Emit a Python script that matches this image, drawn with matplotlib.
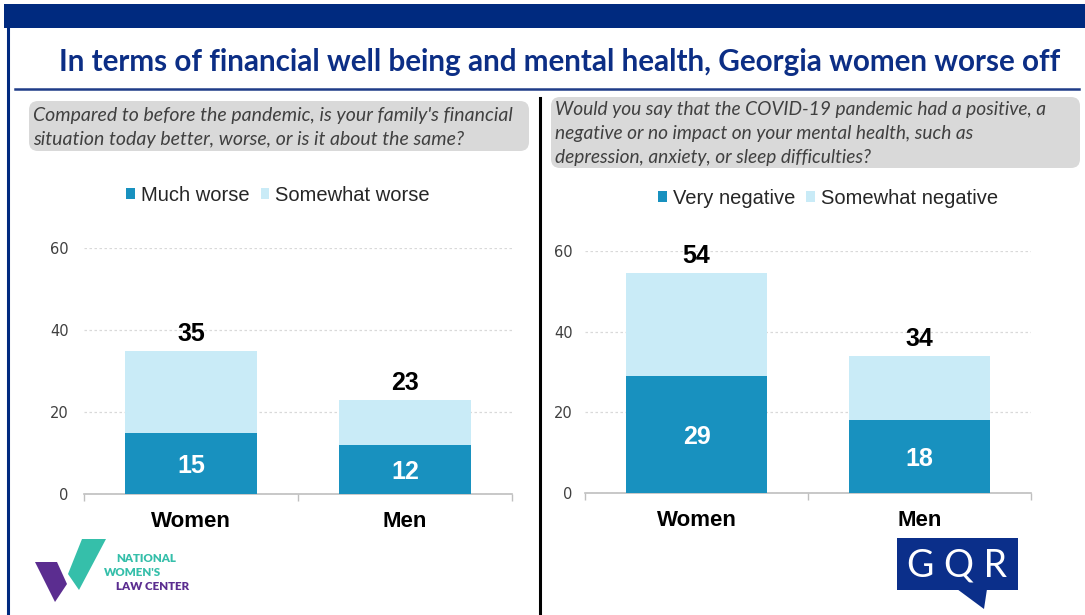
import matplotlib
matplotlib.use("Agg")
import matplotlib.pyplot as plt
from matplotlib.patches import FancyBboxPatch, Rectangle, Polygon
from matplotlib.lines import Line2D
from matplotlib.ticker import FixedLocator

# ---------------- data ----------------
title = "In terms of financial well being and mental health, Georgia women worse off"
categories = ["Women", "Men"]

q_left = ["Compared to before the pandemic, is your family's financial",
          "situation today better, worse, or is it about the same?"]
left_series = ["Much worse", "Somewhat worse"]
left_dark = [15, 12]
left_light = [20, 11]
left_totals = [35, 23]

q_right = ["Would you say that the COVID-19 pandemic had a positive, a",
           "negative or no impact on your mental health, such as",
           "depression, anxiety, or sleep difficulties?"]
right_series = ["Very negative", "Somewhat negative"]
right_dark = [29, 18]
right_light = [25.5, 16]
right_totals = [54, 34]

y_ticks = [0, 20, 40, 60]

# ---------------- style ----------------
W, H = 1085, 615
DARK = "#1891BF"
LIGHT = "#C9EBF7"
NAVY = "#002A7F"
TITLE_C = "#0C2E85"
SANS = "Liberation Sans"

fig = plt.figure(figsize=(W / 100, H / 100), dpi=100)
fig.patch.set_facecolor("white")

bg = fig.add_axes([0, 0, 1, 1], zorder=0)
bg.set_xlim(0, W)
bg.set_ylim(H, 0)
bg.axis("off")

# frame / header
bg.add_patch(Rectangle((4, 4), W - 4, 24, color=NAVY, lw=0))
bg.add_line(Line2D([7.5, 7.5], [28, H], color=NAVY, lw=2.2))
bg.text(560, 62, title, ha="center", va="center", fontsize=21.3,
        fontweight="bold", color=TITLE_C, family="Lato")
bg.add_line(Line2D([15, 1079], [89, 89], color="#1F3C88", lw=1.8))
bg.add_line(Line2D([540, 540], [98, H], color="black", lw=2.2))

# question boxes
bg.add_patch(FancyBboxPatch((29, 101), 500, 50,
                            boxstyle="round,pad=0,rounding_size=9",
                            fc="#D9D9D9", ec="none"))
for i, line in enumerate(q_left):
    bg.text(33, 116 + i * 24, line, ha="left", va="center", fontsize=14,
            style="italic", color="#404040", family="Lato")
bg.add_patch(FancyBboxPatch((551, 97), 529, 71,
                            boxstyle="round,pad=0,rounding_size=9",
                            fc="#D9D9D9", ec="none"))
for i, line in enumerate(q_right):
    bg.text(555, 109 + i * 24, line, ha="left", va="center", fontsize=13.8,
            style="italic", color="#404040", family="Lato")


def px_rect(x0, x1, ytop, ybot):
    return [x0 / W, 1 - ybot / H, (x1 - x0) / W, (ybot - ytop) / H]


def draw_panel(rect, dark, light, totals, series, legend_xy, width, ypad):
    ax = fig.add_axes(rect, zorder=2)
    ax.set_facecolor("none")
    x = list(range(len(categories)))
    ax.bar(x, dark, width=width, color=DARK, zorder=3, label=series[0])
    ax.bar(x, light, bottom=dark, width=width, color=LIGHT, zorder=3,
           label=series[1])
    ax.set_xlim(-0.5, len(categories) - 0.5)
    ax.set_ylim(0, 60)
    ax.set_yticks(y_ticks)
    ax.set_xticks(x)
    ax.set_xticklabels(categories, fontsize=16, fontweight="bold",
                       family=SANS, color="black")
    ax.xaxis.set_minor_locator(FixedLocator([-0.5, 0.5, 1.5]))
    ax.tick_params(axis="x", which="major", length=0, pad=12)
    ax.tick_params(axis="x", which="minor", length=5, color="#BFBFBF",
                   width=1)
    ax.tick_params(axis="y", length=0, pad=ypad, labelsize=10.5,
                   labelcolor="#404040")
    for lab in ax.get_yticklabels():
        lab.set_family("DejaVu Sans")
    ax.grid(axis="y", color="#D9D9D9", linestyle=(0, (2, 2)), lw=0.9,
            zorder=0)
    for s in ["top", "right", "left"]:
        ax.spines[s].set_visible(False)
    ax.spines["bottom"].set_color("#BFBFBF")
    ax.spines["bottom"].set_linewidth(1.2)
    for xi, d, tot in zip(x, dark, totals):
        ax.text(xi, d / 2, f"{d}", ha="center", va="center_baseline",
                fontsize=18, fontweight="bold", color="white", family=SANS,
                zorder=4)
        ax.annotate(f"{tot}", (xi, d + light[xi]), xytext=(0, 7),
                    textcoords="offset points", ha="center", va="baseline",
                    fontsize=18, fontweight="bold", color="black",
                    family=SANS, zorder=4)
    h, l = ax.get_legend_handles_labels()
    fig.legend(h, l, loc="center", bbox_to_anchor=legend_xy, ncol=2,
               frameon=False, prop={"family": SANS, "size": 14.5},
               handlelength=0.42, handleheight=0.42, handletextpad=0.3,
               columnspacing=0.55, labelcolor="#262626")
    return ax


draw_panel(px_rect(84, 512, 248, 494), left_dark, left_light, left_totals,
           left_series, (278 / W, 1 - 195 / H), 0.62, 11)
draw_panel(px_rect(585, 1031, 251, 493), right_dark, right_light, right_totals,
           right_series, (828 / W, 1 - 198 / H), 0.63, 9)

# NWLC logo
bg.add_patch(Polygon([(35, 562), (57, 562), (67, 584), (55, 602)],
                     closed=True, fc="#5B2D90", ec="none"))
bg.add_patch(Polygon([(82, 539), (106, 539), (79, 590), (68, 574)],
                     closed=True, fc="#35BFAA", ec="none"))
bg.text(116, 558, "NATIONAL", fontsize=8.3, fontweight="heavy",
        color="#35BFAA", family="Lato", va="center", ha="left")
bg.text(104, 573, "WOMEN'S", fontsize=8.3, fontweight="heavy",
        color="#35BFAA", family="Lato", va="center", ha="left")
bg.text(116, 587, "LAW CENTER", fontsize=8.3, fontweight="heavy",
        color="#5B2D90", family="Lato", va="center", ha="left")

# GQR logo
bg.add_patch(Rectangle((897, 538), 121, 52, fc="#0B2F8A", ec="none"))
bg.add_patch(Polygon([(957, 589), (984, 609), (987, 589)], closed=True,
                     fc="#0B2F8A", ec="none"))
bg.text(957, 565, "G Q R", ha="center", va="center", fontsize=27,
        color="white", family="Lato", fontweight="normal")

fig.savefig("out.png", dpi=100)
